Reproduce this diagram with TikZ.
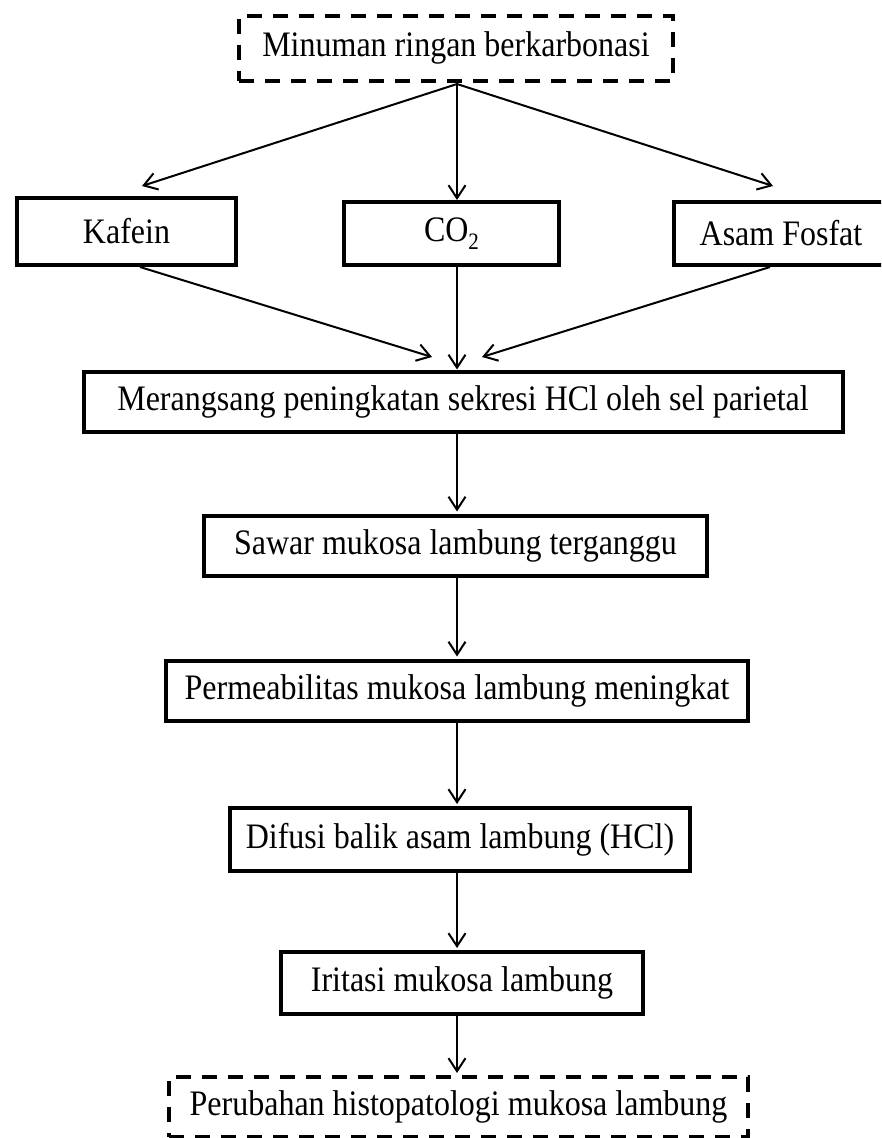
\documentclass[tikz,border=0pt]{standalone}
\usepackage{fontspec}
\usepackage{graphicx}
\setmainfont{Liberation Serif}
\usetikzlibrary{arrows.meta}
\newcommand\talltxt[1]{\scalebox{1}[1.12]{#1}}
\begin{document}
\begin{tikzpicture}[x=1pt,y=-1pt,
  every node/.style={font=\fontsize{32}{36}\selectfont, inner sep=0pt},
  solidbox/.style={draw, line width=4pt, rectangle, anchor=center},
  dashbox/.style={draw, line width=4pt, rectangle, anchor=center, dash pattern=on 15pt off 11pt},
  arr/.style={line width=2pt, -{Straight Barb[length=13pt,width=17pt,line width=2pt]}}
]
\clip (0,0) rectangle (881,1138);
\fill[white] (0,0) rectangle (881,1138);

\node[dashbox, minimum width=434pt, minimum height=65pt] (top) at (456,48) {\talltxt{Minuman ringan berkarbonasi}};

\node[solidbox, minimum width=219pt, minimum height=67pt] (kaf) at (126.5,231.5) {\talltxt{Kafein}};
\node[solidbox, minimum width=215pt, minimum height=63pt] (co) at (451.5,233.5) {\talltxt{CO\raisebox{-0.22em}{\fontsize{21}{21}\selectfont 2}}};
\node[solidbox, minimum width=214pt, minimum height=63pt] (asam) at (781,233.5) {\talltxt{Asam Fosfat}};

\node[solidbox, minimum width=759pt, minimum height=60pt] (mer) at (463,401.5) {\talltxt{Merangsang peningkatan sekresi HCl oleh sel parietal}};
\node[solidbox, minimum width=503pt, minimum height=60pt] (saw) at (455.5,545.5) {\talltxt{Sawar mukosa lambung terganggu}};
\node[solidbox, minimum width=582pt, minimum height=60pt] (per) at (457,690.5) {\talltxt{Permeabilitas mukosa lambung meningkat}};
\node[solidbox, minimum width=460pt, minimum height=63pt] (dif) at (460,839.5) {\talltxt{Difusi balik asam lambung (HCl)}};
\node[solidbox, minimum width=362pt, minimum height=62pt] (iri) at (462,983) {\talltxt{Iritasi mukosa lambung}};
\node[dashbox, minimum width=579pt, minimum height=60pt] (akh) at (458.5,1107) {\talltxt{Perubahan histopatologi mukosa lambung}};

\coordinate (col) at (457,0);
\coordinate (src) at (457,84);
\coordinate (tk) at (142,186);
\coordinate (ta) at (773,186);
\coordinate (mk) at (432,357);
\coordinate (ma) at (482,357);

\draw[arr] (src) -- (tk);
\draw[arr] (src) -- (co.north -| col);
\draw[arr] (src) -- (ta);

\draw[arr] (kaf.south -| 140,0) -- (mk);
\draw[arr] (co.south -| col) -- (mer.north -| col);
\draw[arr] (asam.south -| 770,0) -- (ma);

\draw[arr, shorten >=2pt] (mer.south -| col) -- (saw.north -| col);
\draw[arr, shorten >=2pt] (saw.south -| col) -- (per.north -| col);
\draw[arr, shorten >=2pt] (per.south -| col) -- (dif.north -| col);
\draw[arr, shorten >=2pt] (dif.south -| col) -- (iri.north -| col);
\draw[arr, shorten >=2pt] (iri.south -| col) -- (akh.north -| col);
\end{tikzpicture}
\end{document}
